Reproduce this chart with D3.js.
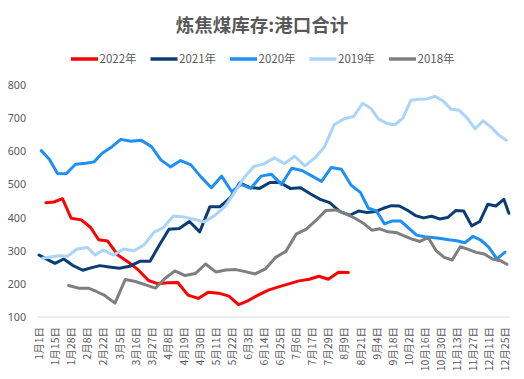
<!DOCTYPE html>
<html><head><meta charset="utf-8">
<script src="https://cdn.jsdelivr.net/npm/d3@7/dist/d3.min.js"></script>
<style>body{margin:0;background:#fff}text{font-family:"Noto Sans CJK SC","Noto Sans",sans-serif}</style>
</head><body>
<svg id="c" width="524" height="379"></svg>
<script>
const title = "炼焦煤库存:港口合计";
const tickLabels = ["1月1日","1月15日","1月28日","2月8日","2月22日","3月5日","3月16日","3月27日","4月8日","4月19日","4月30日","5月11日","5月22日","6月3日","6月14日","6月25日","7月6日","7月17日","7月29日","8月9日","8月21日","9月4日","9月18日","10月2日","10月16日","10月30日","11月13日","11月27日","12月11日","12月25日"];
const yTicks = [100,200,300,400,500,600,700,800];
const seriesNames = ["2022年","2021年","2020年","2019年","2018年"];
const seriesFirstFriday = [[2022,1,7],[2021,1,1],[2020,1,3],[2019,1,4],[2018,1,26]];
const v2022 = [445,447,457,398,393,370,333,329,287,266,242,210,200,203,204,166,156,175,172,163,137,149,166,181,191,200,209,214,223,214,235,234];
const v2021 = [287,274,262,275,256,241,249,255,251,247,253,268,268,318,365,367,388,357,433,433,460,505,491,488,506,506,488,490,471,455,445,418,407,420,415,418,428,436,435,422,406,399,404,396,400,421,420,375,388,440,435,455,413];
const v2020 = [602,576,533,532,561,564,568,594,614,636,630,633,614,574,553,572,559,522,490,525,478,500,488,525,531,500,549,542,525,509,551,546,498,476,428,420,381,390,390,368,347,342,340,337,333,330,324,343,332,310,275,296];
const v2019 = [277,281,285,283,305,310,287,302,287,305,300,318,356,370,405,402,395,387,405,432,475,520,554,562,580,563,585,556,580,612,680,698,705,745,730,697,684,680,700,754,757,758,766,752,727,724,700,668,692,672,648,633];
const v2018 = [195,187,187,177,165,142,213,207,197,187,216,239,225,231,260,236,242,243,237,230,245,280,298,350,365,392,421,423,412,398,382,362,366,357,355,345,335,328,340,300,280,272,312,304,295,290,275,270,259];
const seriesValues = [v2022, v2021, v2020, v2019, v2018];
const colors = ["#FF0000","#0A3D73","#1E90F5","#AAD4FA","#7F7F7F"];

const W = 524, H = 379;
const plotLeft = 38, plotRight = 509.5, plotTop = 85, plotBottom = 317;
const textColor = "#595959";

const svg = d3.select("#c");

// day-of-year on a non-leap reference calendar for a month/day
function dayOfYear(m, d) { return (Date.UTC(2021, m - 1, d) - Date.UTC(2021, 0, 1)) / 864e5; }
function parseLabel(s) { const m = s.match(/(\d+)月(\d+)日/); return dayOfYear(+m[1], +m[2]); }

const xCat = d3.scalePoint().domain(tickLabels).range([39, 505]);
const labelDays = tickLabels.map(parseLabel);
const x = d3.scaleLinear()
  .domain([...labelDays, 365])
  .range([...tickLabels.map(t => xCat(t)), plotRight]);
const y = d3.scaleLinear().domain([100, 800]).range([plotBottom, plotTop]);

// title
svg.append("text").attr("x", 262).attr("y", 32).attr("text-anchor", "middle")
  .attr("font-size", 18.5).attr("font-weight", "bold").attr("fill", textColor).text(title);

// legend
const lg = svg.append("g");
seriesNames.forEach((n, i) => {
  const lx = 71 + i * 79.5;
  lg.append("line").attr("x1", lx).attr("x2", lx + 27).attr("y1", 59).attr("y2", 59)
    .attr("stroke", colors[i]).attr("stroke-width", 3.5);
  lg.append("text").attr("x", lx + 28.5).attr("y", 59).attr("dy", "0.35em")
    .attr("font-size", 11.5).attr("fill", textColor).text(n);
});

// baseline
svg.append("line").attr("x1", plotLeft).attr("x2", plotRight)
  .attr("y1", y(100)).attr("y2", y(100)).attr("stroke", "#d9d9d9").attr("stroke-width", 1.2);

// y axis
const ya = svg.append("g").attr("transform", "translate(29,0)")
  .call(d3.axisLeft(y).tickValues(yTicks).tickSize(0).tickPadding(3));
ya.select(".domain").remove();
ya.selectAll("text").attr("font-size", 10.7).attr("fill", textColor)
  .style("font-family", '"Noto Sans","Noto Sans CJK SC",sans-serif');

// x axis labels
const xa = svg.append("g").attr("transform", `translate(0,${plotBottom})`)
  .call(d3.axisBottom(xCat).tickSize(0));
xa.select(".domain").remove();
xa.selectAll("text")
  .attr("font-size", 10.5).attr("fill", textColor)
  .attr("text-anchor", "end")
  .attr("transform", "rotate(-90)")
  .attr("x", -10).attr("y", 0).attr("dy", "0.35em");

// series lines
const line = d3.line().x(d => x(d.day)).y(d => y(d.v));
seriesValues.forEach((vals, si) => {
  const [yr, m, d0] = seriesFirstFriday[si];
  const pts = vals.map((v, i) => {
    const dt = new Date(Date.UTC(yr, m - 1, d0 + 7 * i));
    return { day: dayOfYear(dt.getUTCMonth() + 1, dt.getUTCDate()), v };
  });
  svg.append("path").datum(pts).attr("d", line)
    .attr("fill", "none").attr("stroke", colors[si]).attr("stroke-width", 3)
    .attr("stroke-linejoin", "round").attr("stroke-linecap", "round");
});
</script>
</body></html>
